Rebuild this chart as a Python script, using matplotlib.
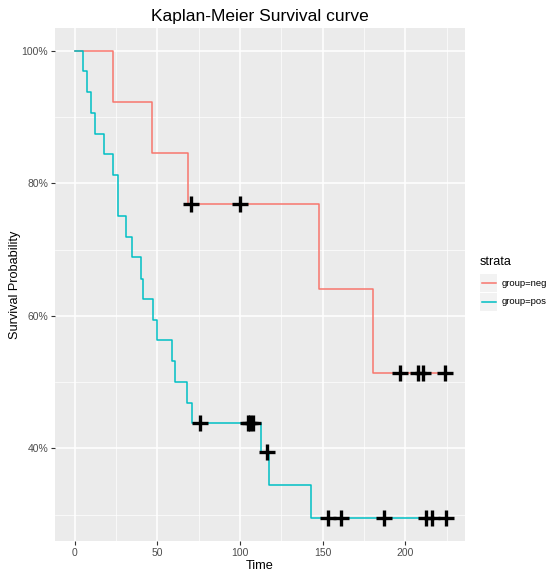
import numpy as np
import matplotlib.pyplot as plt
from matplotlib.patches import Rectangle
from matplotlib.lines import Line2D

plt.rcParams['font.family'] = ['Liberation Sans', 'DejaVu Sans']

# group=neg : step times and survival after each step
neg_times = [0, 23.0, 46.7, 68.7, 147.8, 180.4]
neg_surv = [1.0, 0.923, 0.846, 0.769, 0.641, 0.513]
neg_end = 223.7
neg_censor = [70.1, 99.9, 196.7, 207.4, 210.4, 223.7]

# group=pos
pos_times = [0, 4.8, 7.3, 9.7, 12.3, 17.7, 23.3, 26.0, 31.0, 34.4, 39.9, 41.1,
             47.5, 49.5, 58.6, 60.6, 67.7, 71.1, 112.6, 117.6, 142.8]
pos_surv = [1.0, 0.969, 0.938, 0.906, 0.875, 0.844, 0.813, 0.75, 0.719, 0.688,
            0.656, 0.625, 0.594, 0.563, 0.531, 0.5, 0.469, 0.438, 0.394, 0.345, 0.295]
pos_end = 224.3
pos_censor = [75.7, 104.9, 106.3, 107.9, 116.0, 153.2, 161.3, 187.1, 212.3, 216.3, 224.3]

strata = ['group=neg', 'group=pos']
colors = ['#F8766D', '#00BFC4']

fig = plt.figure(figsize=(5.57, 5.72), dpi=100)
ax = fig.add_axes([55 / 557, 31 / 572, 410 / 557, 512.7 / 572])
ax.set_facecolor('#EBEBEB')

def surv_at(times, surv, t):
    idx = np.searchsorted(times, t, side='right') - 1
    return np.array(surv)[idx]

groups = [(neg_times, neg_surv, neg_end, neg_censor),
          (pos_times, pos_surv, pos_end, pos_censor)]
for (times, surv, end, cens), col in zip(groups, colors):
    x = list(times) + [end]
    y = list(surv) + [surv[-1]]
    ax.step(x, y, where='post', color=col, lw=1.1, zorder=3)
for (times, surv, end, cens), col in zip(groups, colors):
    ax.plot(cens, surv_at(times, surv, cens), ls='none', marker='+',
            ms=11, mew=2.4, color='black', zorder=4)

ax.set_xlim(-11.9, 236)
ax.set_ylim(0.26, 1.034)
ax.set_xticks([0, 50, 100, 150, 200])
ax.set_xticks([25, 75, 125, 175, 225], minor=True)
ax.set_yticks([0.4, 0.6, 0.8, 1.0])
ax.set_yticklabels(['40%', '60%', '80%', '100%'])
ax.set_yticks([0.3, 0.5, 0.7, 0.9], minor=True)
ax.grid(which='major', color='white', lw=1.1)
ax.grid(which='minor', color='white', lw=0.5)
ax.set_axisbelow(True)
for s in ax.spines.values():
    s.set_visible(False)
ax.tick_params(which='major', length=3, width=0.8, color='#333333',
               labelcolor='#4D4D4D', labelsize=7.5, pad=2)
ax.tick_params(which='minor', length=0)

ax.set_xlabel('Time', fontsize=9.2, labelpad=1.5)
ax.set_ylabel('Survival Probability', fontsize=9.2, labelpad=0)
ax.set_title('Kaplan-Meier Survival curve', fontsize=12.5, pad=5.5)

# legend
fig.text(480 / 557, 1 - 262 / 572, 'strata', fontsize=9, va='center', ha='left')
key_y = [283, 301.5]
for lab, col, yc in zip(strata, colors, key_y):
    fig.add_artist(Rectangle((480 / 557, 1 - (yc + 9) / 572), 17 / 557, 18 / 572,
                             transform=fig.transFigure, facecolor='#F2F2F2',
                             edgecolor='none'))
    fig.add_artist(Line2D([481.5 / 557, 495.5 / 557], [1 - yc / 572] * 2,
                          transform=fig.transFigure, color=col, lw=1.1))
    fig.text(502 / 557, 1 - yc / 572, lab, fontsize=6.8, va='center', ha='left')

fig.savefig('out.png', dpi=100)
